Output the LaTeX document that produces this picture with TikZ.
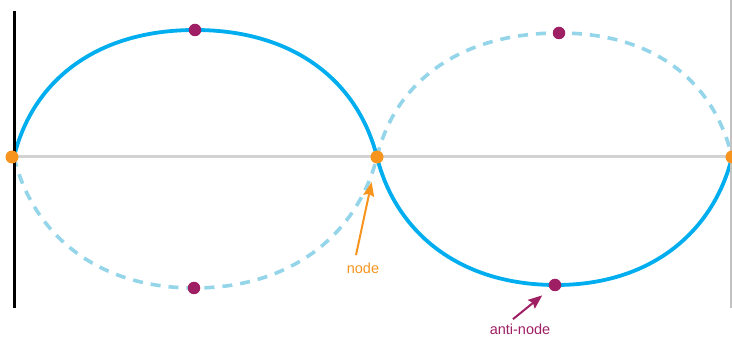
\documentclass[tikz,border=0pt]{standalone}
\usepackage{fontspec}
\setmainfont{Liberation Sans}
\usetikzlibrary{arrows.meta}
\definecolor{wavecol}{HTML}{00AEEF}
\definecolor{dashcol}{HTML}{94D5EA}
\definecolor{axiscol}{HTML}{D2D2D2}
\definecolor{nodecol}{HTML}{F7941D}
\definecolor{anticol}{HTML}{9E1F63}
\tikzset{
  wave/.style={draw=wavecol,line width=3.8pt},
  ghost/.style={draw=dashcol,line width=3.6pt,dash pattern=on 10pt off 8pt},
  ndot/.style={circle,fill=nodecol,inner sep=0pt,minimum size=13pt},
  adot/.style={circle,fill=anticol,inner sep=0pt,minimum size=12.5pt},
  lbl/.style={font=\fontsize{14.5}{16}\selectfont},
  pointer/.style={line width=2pt,-{Stealth[length=14pt,width=11pt,inset=2pt]}}
}
\begin{document}
\begin{tikzpicture}[x=1pt,y=-1pt]
\useasboundingbox (0,0) rectangle (732,339);
\begin{scope}
\clip (0,0) rectangle (732,339);
% axis
\draw[axiscol,line width=3pt] (14,157) -- (732,157);
% dashed (mirror) wave
\draw[ghost] (14,157) .. controls (32,232) and (95,288) .. (194,288)
  .. controls (294,288) and (358,232) .. (377,157);
\draw[ghost] (377,157) .. controls (395,82) and (460,33) .. (559,33)
  .. controls (655,33) and (714,82) .. (732,157);
% solid wave
\draw[wave] (14,157) .. controls (32,82) and (95,30) .. (195,30)
  .. controls (295,30) and (358,82) .. (377,157)
  .. controls (395,230) and (457,285) .. (556,285)
  .. controls (653,285) and (714,230) .. (732,157);
% walls
\draw[black,line width=3pt] (14,11) -- (14,308);
\draw[axiscol!80!gray,line width=1.5pt] (731,0) -- (731,308);
% dots
\node[ndot] (n1) at (12,157) {};
\node[ndot] (n2) at (377,157) {};
\node[ndot] (n3) at (732,157) {};
\end{scope}
\node[adot] (a1) at (195,30) {};
\node[adot] (a2) at (194,288) {};
\node[adot] (a3) at (559,33) {};
\node[adot] (a4) at (555,285) {};
% labels
\node[lbl,text=nodecol] (nodelabel) at (363,268) {node};
\node[lbl,text=anticol] (antilabel) at (520,329) {anti-node};
\draw[pointer,nodecol,shorten >=19pt] ([xshift=-7pt,yshift=4pt]nodelabel.north) -- (n2);
\draw[pointer,anticol,shorten >=10pt] ([xshift=-7pt,yshift=1pt]antilabel.north) -- (a4);
\end{tikzpicture}
\end{document}
